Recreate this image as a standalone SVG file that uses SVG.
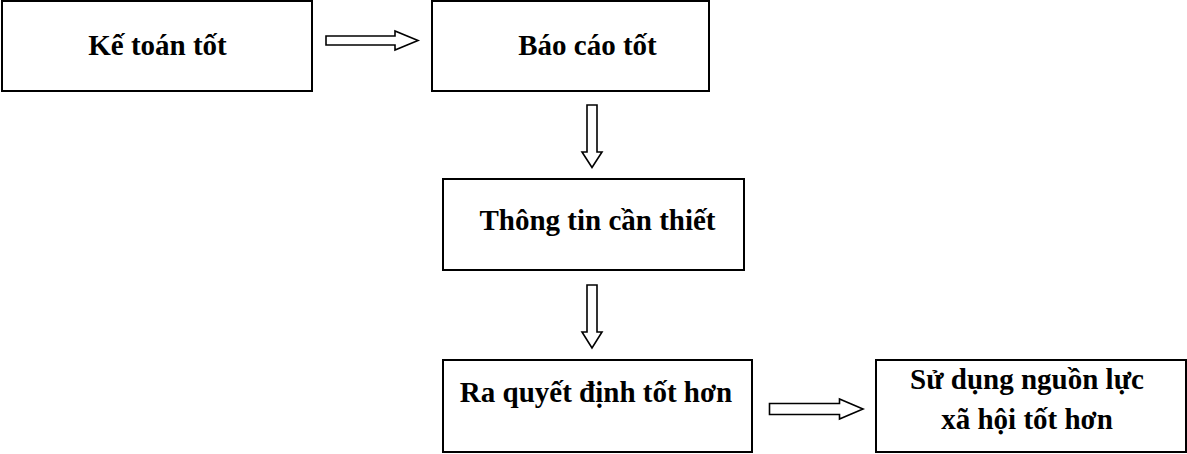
<svg xmlns="http://www.w3.org/2000/svg" width="1187" height="454" viewBox="0 0 1187 454">
  <style>
    .box { fill: #ffffff; stroke: #000000; stroke-width: 2; }
    .arrow { fill: #ffffff; stroke: #000000; stroke-width: 1.6; stroke-linejoin: miter; }
    .label { font-family: "Liberation Serif", "Times New Roman", serif; font-weight: bold; font-size: 29px; fill: #000000; text-anchor: middle; }
  </style>
  <rect x="0" y="0" width="1187" height="454" fill="#ffffff"/>

  <g id="node-ke-toan-tot">
    <rect class="box" x="2" y="1" width="310" height="90"/>
    <text class="label" x="157.5" y="55">Kế toán tốt</text>
  </g>

  <g id="node-bao-cao-tot">
    <rect class="box" x="432" y="1" width="277" height="90"/>
    <text class="label" x="587.5" y="54.5">Báo cáo tốt</text>
  </g>

  <g id="node-thong-tin-can-thiet">
    <rect class="box" x="443" y="179" width="301" height="91"/>
    <text class="label" x="597.5" y="230">Thông tin cần thiết</text>
  </g>

  <g id="node-ra-quyet-dinh">
    <rect class="box" x="443" y="360" width="309" height="92"/>
    <text class="label" x="596" y="401.5">Ra quyết định tốt hơn</text>
  </g>

  <g id="node-su-dung-nguon-luc">
    <rect class="box" x="876" y="360" width="310" height="92"/>
    <text class="label" x="1027" y="388.5">Sử dụng nguồn lực</text>
    <text class="label" x="1027" y="428.5">xã hội tốt hơn</text>
  </g>

  <g id="connectors">
    <!-- block arrow: right -->
    <path class="arrow" d="M326,36 L395,36 L395,31 L418,40.5 L395,50 L395,45 L326,45 Z"/>
    <!-- block arrow: down -->
    <path class="arrow" d="M587,105 L597,105 L597,152 L602,152 L592,167.5 L582,152 L587,152 Z"/>
    <!-- block arrow: down -->
    <path class="arrow" d="M587,285 L597,285 L597,332 L602,332 L592,348 L582,332 L587,332 Z"/>
    <!-- block arrow: right -->
    <path class="arrow" d="M769.5,403.5 L839.5,403.5 L839.5,399 L863,409 L839.5,419 L839.5,414.5 L769.5,414.5 Z"/>
  </g>
</svg>
